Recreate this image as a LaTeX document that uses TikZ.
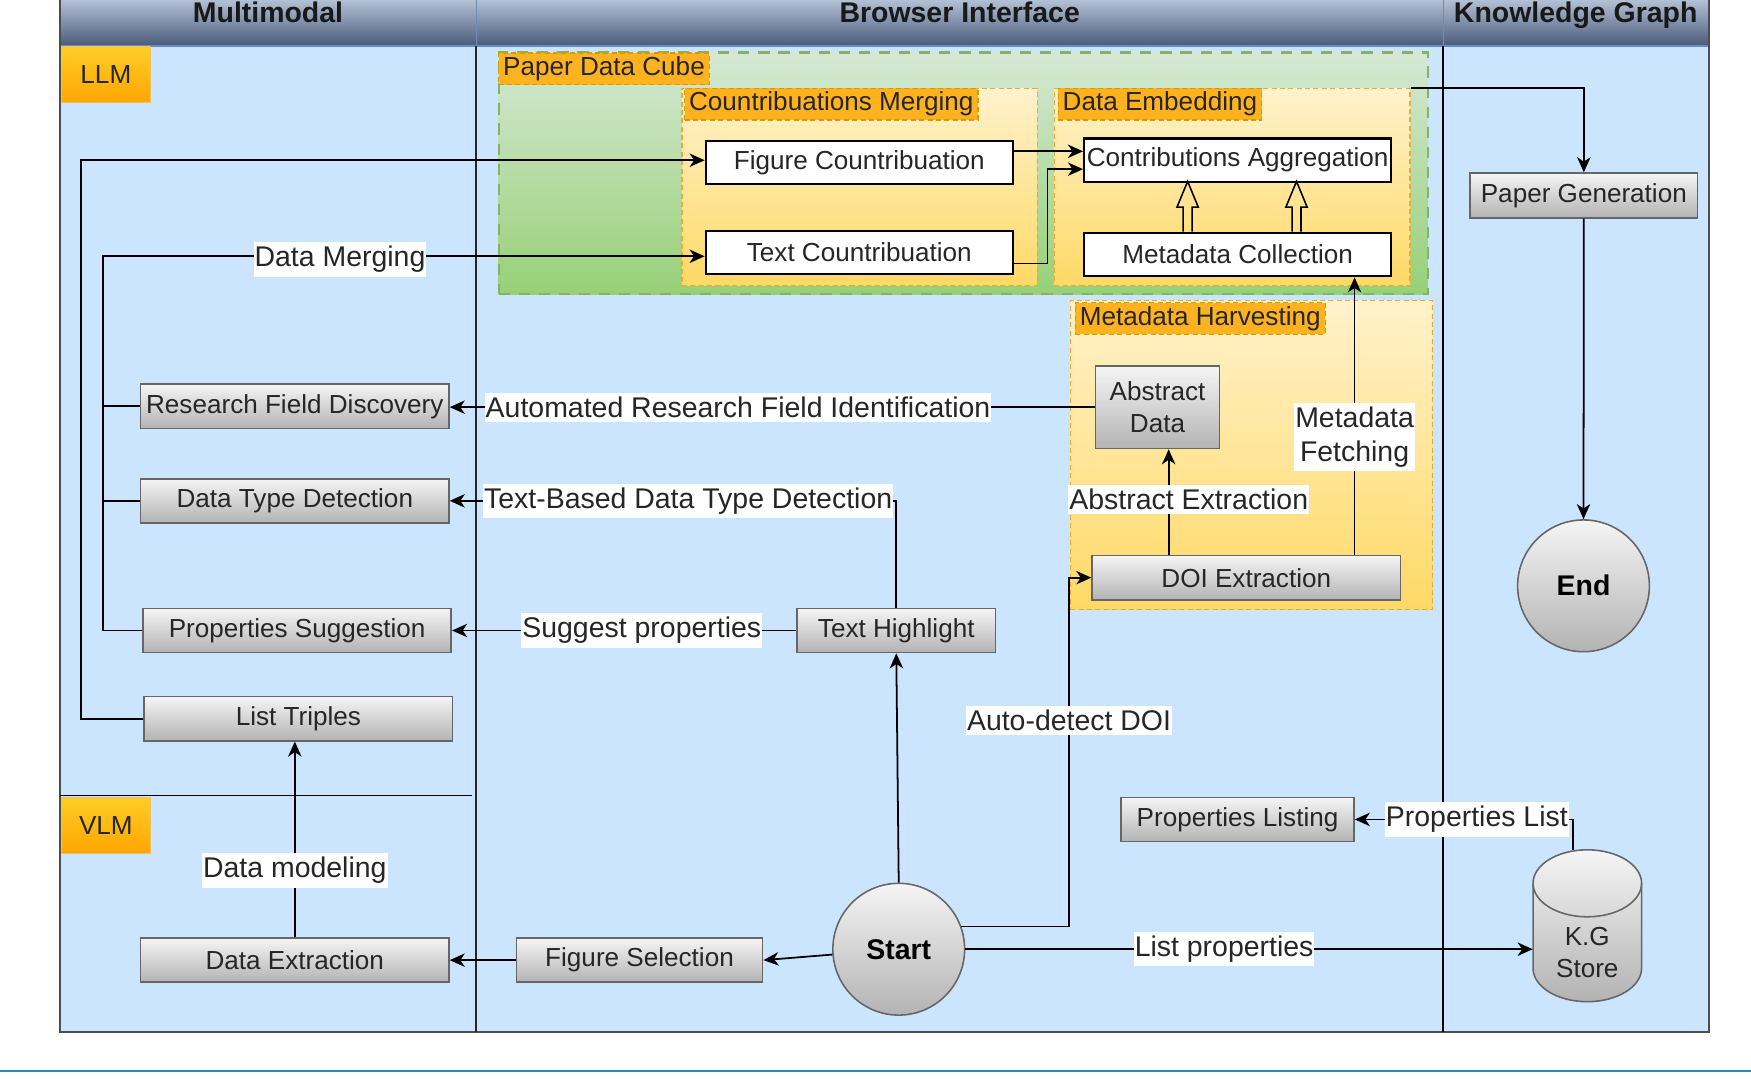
\documentclass[tikz,border=0pt]{standalone}
\usepackage{fontspec}
\setmainfont{Liberation Sans}
\usetikzlibrary{arrows.meta, calc}

\definecolor{lanebg}{HTML}{CCE5FF}
\definecolor{hdtop}{HTML}{B3C0D4}
\definecolor{hdbot}{HTML}{4A5C7C}
\definecolor{hdline}{HTML}{6C8EBF}
\definecolor{framec}{HTML}{4D4D4D}
\definecolor{cubetop}{HTML}{D5E8D4}
\definecolor{cubebot}{HTML}{97D077}
\definecolor{cubeline}{HTML}{82B366}
\definecolor{grptop}{HTML}{FFF2CC}
\definecolor{grpbot}{HTML}{FFD966}
\definecolor{grpline}{HTML}{F0A830}
\definecolor{tagfill}{HTML}{FFB21F}
\definecolor{tagline}{HTML}{D79B00}
\definecolor{llmtop}{HTML}{FFCD28}
\definecolor{llmbot}{HTML}{FFA500}
\definecolor{graytop}{HTML}{F5F5F5}
\definecolor{graybot}{HTML}{B3B3B3}
\definecolor{grayline}{HTML}{666666}
\definecolor{inkc}{HTML}{262626}
\definecolor{rulec}{HTML}{2A8AB5}

\newcommand\boxtxt{\fontsize{13.3}{16.5}\selectfont}
\newcommand\lbltxt{\fontsize{14.5}{17.6}\selectfont}

\tikzset{
  conn/.style={draw=black, line width=0.9pt},
  conarr/.style={conn, -{Stealth[length=0.27cm, width=0.24cm, inset=0.08cm]}},
  lbl/.style={fill=white, inner xsep=0.5pt, inner ysep=2pt, font=\lbltxt, text=inkc, align=center},
  whitebox/.style={draw=black, line width=1.1pt, fill=white, minimum width=5.5cm, minimum height=0.78cm, inner sep=0pt, font=\boxtxt, text=inkc},
  graybox/.style={draw=grayline, line width=0.8pt, top color=graytop, bottom color=graybot, minimum width=5.52cm, minimum height=0.79cm, inner sep=0pt, font=\boxtxt, text=inkc, align=center},
  term/.style={circle, draw=grayline, line width=0.8pt, top color=graytop, bottom color=graybot, minimum size=2.36cm, inner sep=0pt, font=\lbltxt\bfseries, text=black},
  cube/.style={draw=cubeline, line width=1.1pt, dash pattern=on 0.2cm off 0.16cm, top color=cubetop, bottom color=cubebot, inner sep=0pt},
  grp/.style={draw=grpline, line width=0.6pt, dash pattern=on 0.09cm off 0.06cm, top color=grptop, bottom color=grpbot, inner sep=0pt},
  grptag/.style={draw=tagline, line width=0.6pt, dash pattern=on 0.09cm off 0.06cm, fill=tagfill, anchor=north west, minimum height=0.57cm, inner xsep=0.08cm, inner ysep=0pt, font=\boxtxt, text=inkc},
  model/.style={draw=tagline!60, top color=llmtop, bottom color=llmbot, minimum width=1.59cm, minimum height=1.0cm, inner sep=0pt, font=\boxtxt, text=inkc},
  lanehead/.style={anchor=base, font=\lbltxt\bfseries, text=black!90},
  store/.style={minimum width=1.94cm, minimum height=2.72cm, inner sep=0pt, text depth=-0.95cm, font=\boxtxt, text=inkc, align=center},
  fatup/.pic={\draw[line width=0.8pt] (-0.4,0) -- (-0.4,2.2) -- (-0.95,2.2) -- (0,4.5) -- (0.95,2.2) -- (0.4,2.2) -- (0.4,0);},
}

\begin{document}
\begin{tikzpicture}[x=0.2cm, y=0.2cm]
\useasboundingbox (0,0) rectangle (156.8,-96.6);
% swimlanes
\fill[lanebg] (5.35,-4.1) rectangle (153.0,-92.4);
\shade[top color=hdtop, bottom color=hdbot] (5.35,0) rectangle (153.0,-4.1);
\draw[hdline, line width=0.8pt] (5.35,-4.1) -- (153.0,-4.1);
\draw[hdline, line width=0.6pt] (42.65,0) -- (42.65,-4.1) (129.23,0) -- (129.23,-4.1);
\draw[framec, line width=1pt] (5.35,0) -- (5.35,-92.4) -- (153.0,-92.4) -- (153.0,0);
\draw[black!85, line width=1pt] (42.65,-4.1) -- (42.65,-92.4);
\draw[black, line width=0.8pt] (129.23,-4.1) -- (129.23,-92.4);
\draw[black, line width=0.8pt] (5.35,-71.25) -- (42.3,-71.25);
\node[lanehead] (hmm) at (24.0,-2.0) {Multimodal};
\node[lanehead] (hbi) at (85.94,-2.0) {Browser Interface};
\node[lanehead] (hkg) at (141.1,-2.0) {Knowledge Graph};
\draw[rulec, line width=1.4pt] (0,-95.9) -- (156.8,-95.9);

% groups
\node[cube, minimum width=16.64cm, minimum height=4.33cm] (pdc) at (86.26,-15.53) {};
\node[grptag] (pdct) at ($(pdc.north west)+(0.04,-0.08)$) {Paper Data Cube};
\node[grp, minimum width=6.36cm, minimum height=3.54cm] (cmg) at (76.97,-16.75) {};
\node[grptag] (cmgt) at ($(cmg.north west)+(0.24,0)$) {Countribuations Merging};
\node[grp, minimum width=6.37cm, minimum height=3.54cm] (deg) at (110.34,-16.75) {};
\node[grptag] (degt) at ($(deg.north west)+(0.35,0)$) {Data Embedding};
\node[grp, minimum width=6.49cm, minimum height=5.53cm] (mhg) at (112.07,-40.75) {};
\node[grptag] (mhgt) at ($(mhg.north west)+(0.45,-0.17)$) {Metadata Harvesting};

\node[model] (llm) at (9.48,-6.7) {LLM};
\node[model] (vlm) at (9.48,-73.88) {VLM};

% steps
\node[whitebox] (fc) at (76.95,-14.55) {Figure Countribuation};
\node[whitebox] (tc) at (76.95,-22.6) {Text Countribuation};
\node[whitebox] (ca) at (110.83,-14.35) {Contributions Aggregation};
\node[whitebox] (mc) at (110.83,-22.79) {Metadata Collection};

\node[graybox] (rfd) at (26.4,-36.38) {Research Field Discovery};
\node[graybox] (dtd) at (26.4,-44.85) {Data Type Detection};
\node[graybox] (ps) at (26.61,-56.46) {Properties Suggestion};
\node[graybox] (lt) at (26.72,-64.36) {List Triples};
\node[graybox] (dext) at (26.4,-85.98) {Data Extraction};
\node[graybox, minimum width=4.41cm] (fs) at (57.27,-85.98) {Figure Selection};
\node[graybox, minimum width=3.55cm] (th) at (80.26,-56.46) {Text Highlight};
\node[graybox, minimum width=2.22cm, minimum height=1.48cm] (ad) at (103.65,-36.46) {Abstract\\Data};
\node[graybox, minimum height=0.8cm] (doi) at (111.6,-51.73) {DOI Extraction};
\node[graybox, minimum width=4.07cm, minimum height=0.8cm] (pg) at (141.83,-17.5) {Paper Generation};
\node[graybox, minimum width=4.17cm] (pl) at (110.82,-73.38) {Properties Listing};
\node[term] (start) at (80.48,-85.0) {Start};
\node[term] (end) at (141.8,-52.46) {End};

% K.G store cylinder
\shade[top color=graytop, bottom color=graybot, draw=grayline, line width=0.8pt]
  (137.28,-79.1) arc[start angle=180, end angle=0, x radius=4.86, y radius=3]
  -- (147.0,-86.7) arc[start angle=0, end angle=-180, x radius=4.86, y radius=3] -- cycle;
\draw[grayline, line width=0.8pt] (137.28,-79.1) arc[start angle=180, end angle=360, x radius=4.86, y radius=3];
\node[store] (kg) at (142.14,-82.9) {};
\node[font=\boxtxt, text=inkc, align=center] (kgt) at (142.14,-85.3) {K.G\\Store};

% connectors
\draw[conarr] (lt.west) -- ++(-5.6,0) |- ($(fc.west)+(0,0.2)$);
\draw[conarr] (ps.west) -- ++(-3.53,0) coordinate (mrg) |- node[lbl, pos=0.697, yshift=-0.06cm] {Data Merging} ($(tc.west)+(0,-0.35)$);
\draw[conn] (rfd.west) -- (rfd.west -| mrg);
\draw[conn] (dtd.west) -- (dtd.west -| mrg);
\draw[conarr] ($(fc.east)+(0,1.0)$) coordinate (fco) -- (fco -| ca.west);
\draw[conarr] ($(tc.east)+(0,-1.0)$) -- ++(3.0,0) |- ($(ca.west)+(0,-0.8)$);
\pic at ($(mc.north)+(-4.48,0)$) {fatup};
\pic at ($(mc.north)+(5.27,0)$) {fatup};
\draw[conarr] (deg.north east) -| (pg.north);
\draw[conarr] (pg.south) -- (end.north);
\draw[conarr] (ad.west) -- node[lbl, pos=0.553] {Automated Research Field Identification} (ad.west -| rfd.east);
\draw[conarr] (th.north) |- node[lbl, pos=0.733] {Text-Based Data Type Detection} (dtd.east);
\draw[conarr] (th.west) -- node[lbl, pos=0.449] {Suggest properties} (ps.east);
\draw[conarr] (start.north) -- (th.south);
\draw[conarr] (start) -- (fs.east);
\draw[conarr] (fs.west) -- (dext.east);
\draw[conarr] (dext.north) -- node[lbl, pos=0.342] {Data modeling} (dext.north |- lt.south);
\draw[conarr] (start.20) -| node[lbl, pos=0.795] {Auto-detect DOI} ($(doi.west)+(-2.0,0)$) -- (doi.west);
\draw[conarr] (start.east) -- node[lbl, pos=0.456] {List properties} (start.east -| kg.west);
\draw[conarr] ($(kg.north)+(-1.3,-0.05)$) |- node[lbl, pos=0.72] {Properties List} (pl.east);
\draw[conarr] ($(ad.south)+(1.0,0)$) coordinate (adin) ++(0,0) (adin |- doi.north) -- node[lbl, pos=0.525, xshift=0.36cm] {Abstract Extraction} (adin);
\draw[conarr] ($(doi.north)+(9.7,0)$) coordinate (mfb) -- node[lbl, pos=0.424] {Metadata\\Fetching} (mfb |- mc.south);
\end{tikzpicture}
\end{document}
